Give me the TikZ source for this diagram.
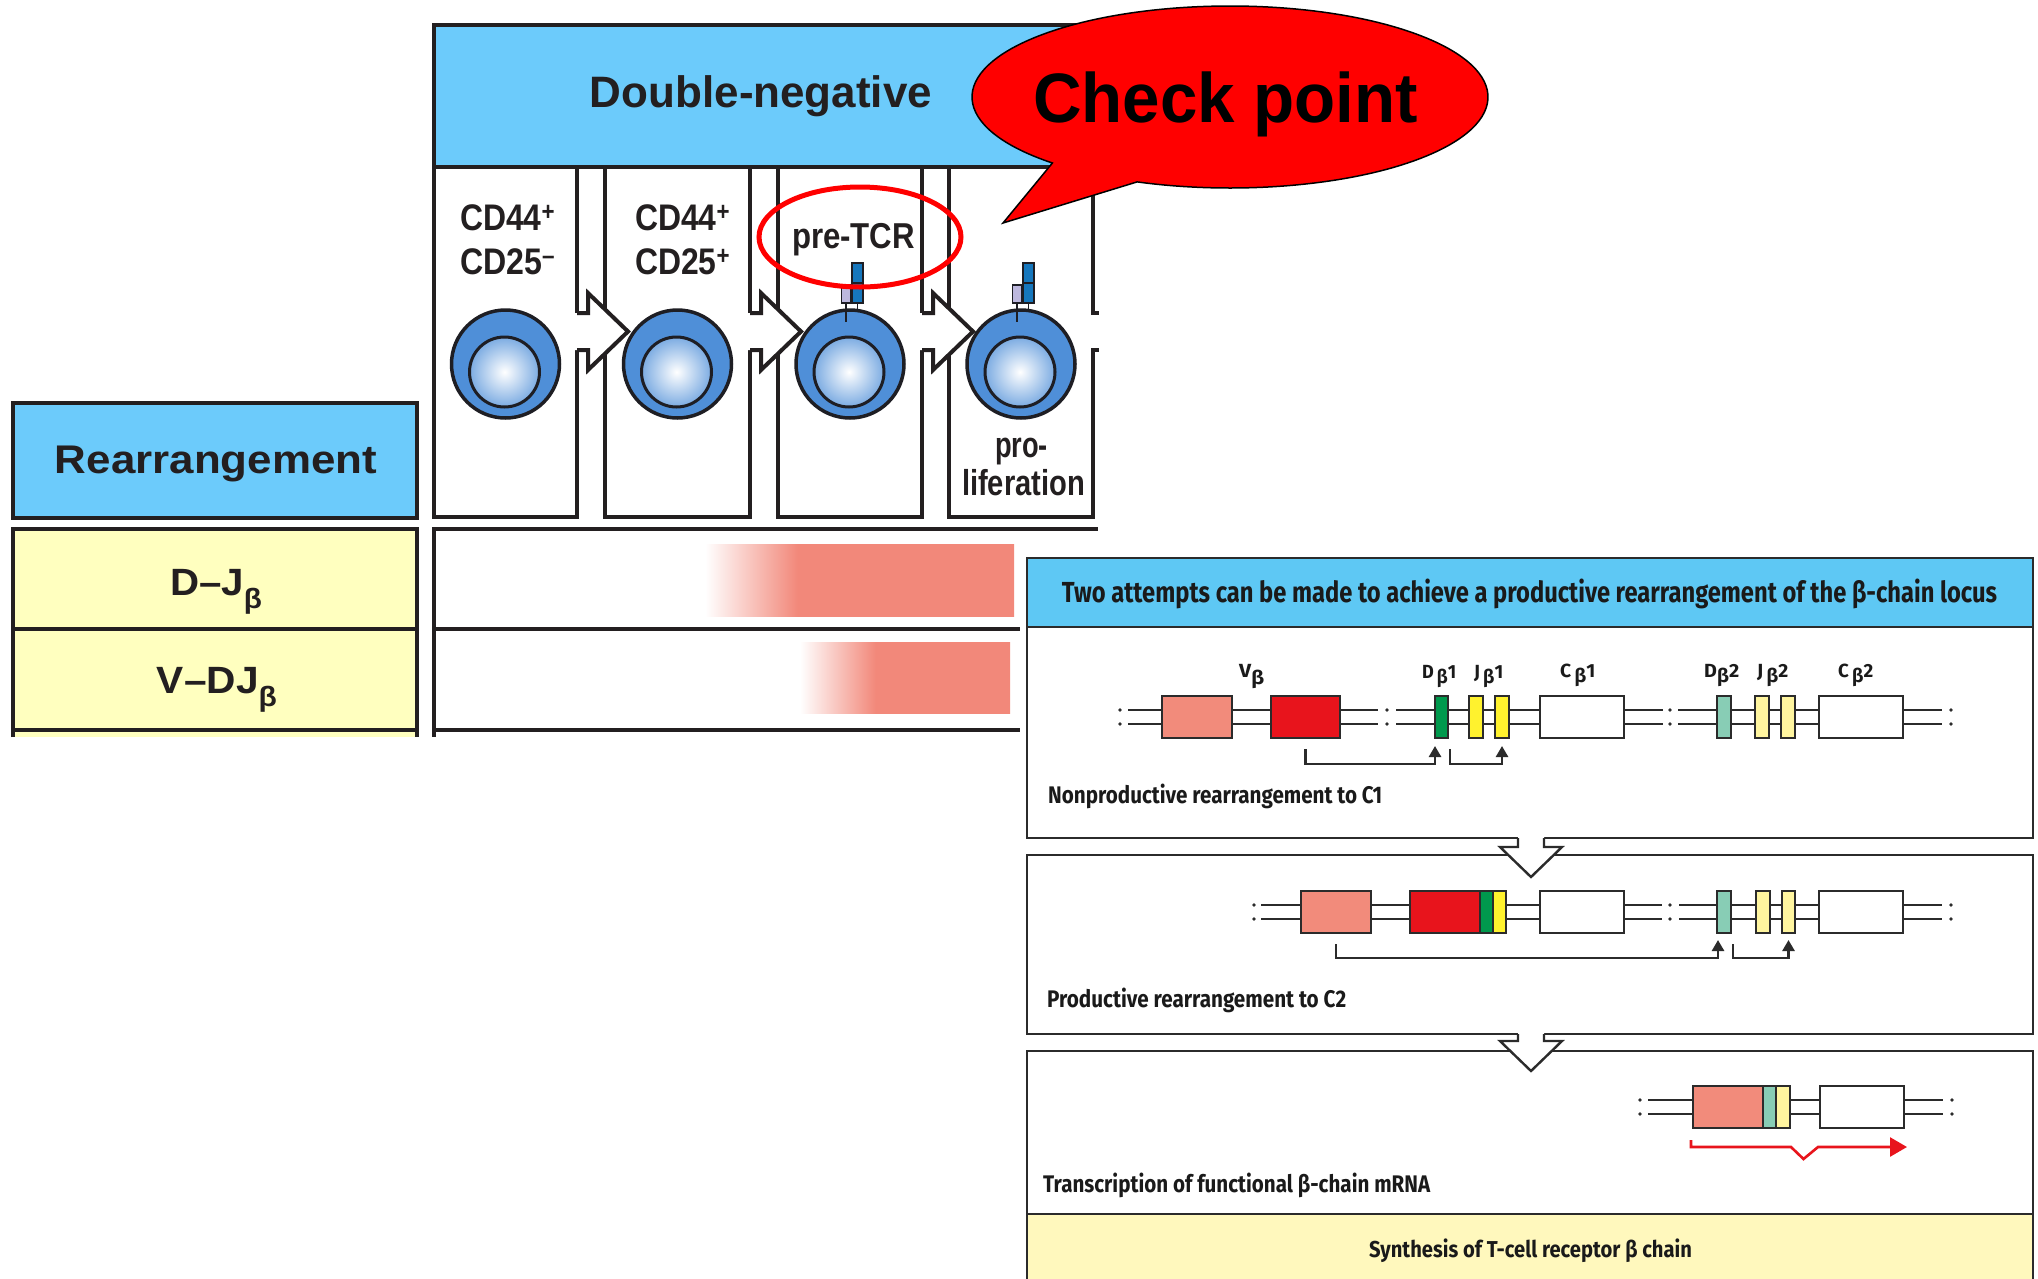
\documentclass[tikz,border=0pt]{standalone}
\usepackage{fontspec}
\usepackage{graphicx}
\setmainfont{Liberation Sans}
\newfontfamily\rf{Fira Sans}
\usetikzlibrary{arrows.meta,calc}

% squeeze or stretch a text horizontally to a given width, keeping its height
\newcommand\fitw[2]{\resizebox{#1}{\height}{#2}}

\definecolor{ink}{HTML}{231F20}
\definecolor{rtext}{HTML}{1A1A1A}
\definecolor{hdrblue}{HTML}{6CCBFB}
\definecolor{panelblue}{HTML}{5EC8F4}
\definecolor{rowyellow}{HTML}{FFFFBF}
\definecolor{synthyellow}{HTML}{FFF8BD}
\definecolor{salmon}{HTML}{F28B7B}
\definecolor{barsalmon}{HTML}{F2887A}
\definecolor{vred}{HTML}{E8141C}
\definecolor{dgreen}{HTML}{00994D}
\definecolor{jyellow}{HTML}{FFF22E}
\definecolor{dteal}{HTML}{88CDB5}
\definecolor{jpale}{HTML}{FFF59F}
\definecolor{cellblue}{HTML}{4F8FD8}
\definecolor{cellrim}{HTML}{1E1E24}
\definecolor{rcpblue}{HTML}{1677BD}
\definecolor{rcplav}{HTML}{BDB8DE}
\definecolor{linegray}{HTML}{2B2B2B}
\definecolor{ovalred}{HTML}{FF0000}
\definecolor{tred}{HTML}{E8141C}

% activity bars: white on the left, fading into solid salmon
\pgfdeclarehorizontalshading{djfade}{100bp}{color(0bp)=(white); color(25bp)=(white); color(40bp)=(barsalmon); color(100bp)=(barsalmon)}
\pgfdeclarehorizontalshading{vdjfade}{100bp}{color(0bp)=(white); color(25bp)=(white); color(43bp)=(barsalmon); color(100bp)=(barsalmon)}

\begin{document}
\begin{tikzpicture}[x=1pt,y=-1pt,
  thickframe/.style={draw=ink, line width=4pt},
  rframe/.style={draw=linegray, line width=2.4pt},
  gene/.style={draw=linegray, line width=2pt, inner sep=0pt, minimum height=42pt, anchor=west},
  strandline/.style={draw=linegray, line width=1.5pt},
  lbl/.style={inner sep=0pt, anchor=base, text=ink},
  rlbl/.style={inner sep=0pt, anchor=base west, text=rtext},
  bracket/.style={draw=linegray, line width=2.6pt, -{Triangle[width=12pt,length=11pt]}},
  cellbody/.style={circle, minimum size=108pt, inner sep=0pt, fill=cellblue, draw=cellrim, line width=3.5pt},
]
\useasboundingbox (0,0) rectangle (2038,1278);
\fill[white] (0,0) rectangle (2038,1278);

% ---------------- developmental stages ----------------
\foreach \L/\R in {434/577, 605/750, 778/922, 949/1093}
  \draw[thickframe, fill=white] (\L,167) rectangle (\R,517);
\draw[thickframe, fill=hdrblue] (434,25) rectangle (1093,167);

% block arrows joining the stages
\foreach \R in {577,750,922} {
  \fill[white] ({\R-2.5},313) -- ({\R+11},313) -- ({\R+11},293) -- ({\R+51},331.5)
     -- ({\R+11},370) -- ({\R+11},350) -- ({\R-2.5},350) -- cycle;
  \draw[ink, line width=4pt, line join=miter] (\R,313) -- ({\R+11},313) -- ({\R+11},293)
     -- ({\R+51},331.5) -- ({\R+11},370) -- ({\R+11},350) -- (\R,350);
}
\fill[white] (1090.5,315) rectangle (1100,348);
\draw[ink, line width=4pt] (1091,313) -- (1099,313) (1091,350) -- (1099,350);

% cells
\foreach \c [count=\i] in {505.5,677.5,850,1021} {
  \node[cellbody] (cell\i) at (\c,364) {};
  \shade[inner color=white, outer color=cellblue!75!white] ({\c-1},372) circle (35pt);
  \draw[cellrim, line width=3pt] ({\c-1},372) circle (35pt);
}
% pre-TCR on the cell surface
\foreach \c in {850,1021} {
  \draw[cellrim, line width=1.6pt] ({\c-4},303) -- ({\c-4},322);
  \draw[cellrim, line width=1.6pt] ({\c+7.5},303) -- ({\c+7.5},311);
  \draw[cellrim, line width=1.2pt, fill=rcplav] ({\c-8.5},285) rectangle ({\c+0.5},303);
  \draw[cellrim, line width=1.2pt, fill=rcpblue] ({\c+2},263) rectangle ({\c+13},303);
  \draw[cellrim, line width=1.2pt] ({\c+2},283) -- ({\c+13},283);
}

\node[lbl] (dneg) at (761,107) {\fitw{342pt}{\fontsize{44}{44}\selectfont\bfseries Double-negative}};
\node[lbl] (s1a) at (507.5,230) {\fitw{95pt}{\fontsize{37}{37}\selectfont\bfseries CD44\textsuperscript{+}}};
\node[lbl] (s1b) at (507.5,274) {\fitw{95pt}{\fontsize{37}{37}\selectfont\bfseries CD25\textsuperscript{–}}};
\node[lbl] (s2a) at (682.5,230) {\fitw{95pt}{\fontsize{37}{37}\selectfont\bfseries CD44\textsuperscript{+}}};
\node[lbl] (s2b) at (682.5,274) {\fitw{95pt}{\fontsize{37}{37}\selectfont\bfseries CD25\textsuperscript{+}}};
\node[lbl] (s3) at (853.5,248) {\fitw{123pt}{\fontsize{36}{36}\selectfont\bfseries pre-TCR}};
\node[lbl] (s4a) at (1021.5,457) {\fitw{53pt}{\fontsize{36}{36}\selectfont\bfseries pro-}};
\node[lbl] (s4b) at (1023.5,495) {\fitw{123pt}{\fontsize{36}{36}\selectfont\bfseries liferation}};

\draw[ovalred, line width=5pt] (860,237) ellipse [x radius=101, y radius=50];

% ---------------- rearrangement table ----------------
\shade[shading=djfade] (705,544) rectangle (1014,616);
\shade[shading=vdjfade] (800,642) rectangle (1010,713);
\draw[thickframe] (434,529) -- (1098,529);
\draw[thickframe] (434,629) -- (1020,629);
\draw[thickframe] (434,730) -- (1020,730);
\draw[thickframe] (434,527) -- (434,737);

\draw[thickframe, fill=hdrblue] (13,403) rectangle (417,518);
\fill[rowyellow] (13,529) rectangle (417,737);
\draw[thickframe] (13,737) -- (13,529) -- (417,529) -- (417,737);
\draw[thickframe] (13,629) -- (417,629);
\draw[thickframe] (13,730) -- (417,730);

\node[lbl] (rearr) at (216,473) {\fitw{322pt}{\fontsize{40}{40}\selectfont\bfseries Rearrangement}};
\node[lbl] (djrow) at (216,595) {\fitw{92pt}{\fontsize{38}{38}\selectfont\bfseries D–J\raisebox{-13pt}{\fontsize{28}{28}\selectfont β}}};
\node[lbl] (vdjrow) at (217,693) {\fitw{120pt}{\fontsize{38}{38}\selectfont\bfseries V–DJ\raisebox{-13pt}{\fontsize{28}{28}\selectfont β}}};

% ---------------- check point callout ----------------
\path[draw=black, line width=1.5pt, fill=ovalred, line join=miter]
  (1230,97) ++(133.5:258 and 91)
  arc[start angle=133.5, end angle=471.1, x radius=258, y radius=91]
  -- (1003,223) -- cycle;
\node[lbl, text=black] (cp) at (1225.5,122) {\fitw{385pt}{\fontsize{70}{70}\selectfont\bfseries Check point}};

% ---------------- beta-chain locus panel ----------------
\draw[rframe, fill=panelblue] (1027,558) rectangle (2033,627);
\draw[rframe, fill=white] (1027,627) rectangle (2033,838);
\draw[rframe, fill=white] (1027,855) rectangle (2033,1034);
\draw[rframe, fill=white] (1027,1051) rectangle (2033,1214);
\fill[synthyellow] (1027,1214) rectangle (2033,1280);
\draw[rframe] (1027,1280) -- (1027,1214) -- (2033,1214) -- (2033,1280);

% hollow arrows between the steps
\foreach \t/\b in {838/847, 1034/1041} {
  \fill[white] (1518,{\t-2}) -- (1518,\b) -- (1500,\b) -- (1531,{\b+30}) -- (1562,\b) -- (1544,\b) -- (1544,{\t-2}) -- cycle;
  \draw[linegray, line width=2.4pt, line join=miter] (1518,\t) -- (1518,\b) -- (1500,\b) -- (1531,{\b+30}) -- (1562,\b) -- (1544,\b) -- (1544,\t);
}

\node[lbl, text=rtext] (ttl) at (1529.5,602) {\fitw{935pt}{\rf\bfseries\fontsize{29}{29}\selectfont Two attempts can be made to achieve a productive rearrangement of the β-chain locus}};

% DNA strands with break marks
\foreach \y/\segs/\dots in {717/{1128/1378,1396/1663,1678/1942}/{1120,1387,1670,1951},
                             912/{1261/1662,1679/1942}/{1254,1670,1951},
                             1107/{1648/1943}/{1640,1952}} {
  \foreach \a/\e in \segs {
    \draw[strandline] (\a,{\y-7}) -- (\e,{\y-7});
    \draw[strandline] (\a,{\y+7}) -- (\e,{\y+7});
  }
  \foreach \d in \dots {
    \fill[linegray] (\d,{\y-7}) circle (1.8pt);
    \fill[linegray] (\d,{\y+7}) circle (1.8pt);
  }
}

% germline locus
\node[gene, fill=salmon,  minimum width=70pt] (av1) at (1161,717) {};
\node[gene, fill=vred,    minimum width=69pt] (av2) at (1270,717) {};
\node[gene, fill=dgreen,  minimum width=13pt] (ad1) at (1433.5,717) {};
\node[gene, fill=jyellow, minimum width=14pt] (aj1) at (1468,717) {};
\node[gene, fill=jyellow, minimum width=14pt] (aj2) at (1494,717) {};
\node[gene, fill=white,   minimum width=84pt] (ac1) at (1539,717) {};
\node[gene, fill=dteal,   minimum width=14pt] (ad2) at (1716,717) {};
\node[gene, fill=jpale,   minimum width=14pt] (aj3) at (1754,717) {};
\node[gene, fill=jpale,   minimum width=14pt] (aj4) at (1780,717) {};
\node[gene, fill=white,   minimum width=84pt] (ac2) at (1818,717) {};

\draw[bracket] ($(av2.south)+(0,10)$) -- ++(0,15) -| ($(ad1.south west)+(1.5,7)$);
\draw[bracket] ($(ad1.south east)+(1.5,10)$) -- ++(0,15) -| ($(aj2.south)+(0,7)$);

% after the first attempt
\node[gene, fill=salmon,  minimum width=70pt] (bv1) at (1300,912) {};
\node[gene, fill=vred,    minimum width=70pt] (bv2) at (1409,912) {};
\node[gene, fill=dgreen,  minimum width=13pt] (bd1) at (1479,912) {};
\node[gene, fill=jyellow, minimum width=13pt] (bj1) at (1492,912) {};
\node[gene, fill=white,   minimum width=84pt] (bc1) at (1539,912) {};
\node[gene, fill=dteal,   minimum width=14pt] (bd2) at (1716,912) {};
\node[gene, fill=jpale,   minimum width=14pt] (bj3) at (1755,912) {};
\node[gene, fill=jpale,   minimum width=13pt] (bj4) at (1781,912) {};
\node[gene, fill=white,   minimum width=84pt] (bc2) at (1818,912) {};

\draw[bracket] ($(bv1.south)+(0,10)$) -- ++(0,14) -| ($(bd2.south west)+(2,6)$);
\draw[bracket] ($(bd2.south east)+(1,10)$) -- ++(0,14) -| ($(bj4.south)+(0,6)$);

% rearranged gene
\node[gene, fill=salmon, minimum width=70pt] (cv) at (1692,1107) {};
\node[gene, fill=dteal,  minimum width=13pt] (cd) at (1762,1107) {};
\node[gene, fill=jpale,  minimum width=14pt] (cj) at (1775,1107) {};
\node[gene, fill=white,  minimum width=84pt] (cc) at (1819,1107) {};

\draw[tred, line width=2.6pt, line join=miter, -{Triangle[width=19pt,length=17pt]}]
  ($(cv.south west)+(-1,11)$) -- ++(0,7) -- ($(cj.south east)+(0,18)$)
  -- (1803.5,1159) -- ($(cc.south west)+(-1,18)$) -- ($(cc.south east)+(2,18)$);

% segment labels
\node[rlbl] (lv)  at (1239,677) {\fitw{25pt}{\rf\bfseries\fontsize{19}{19}\selectfont V\raisebox{-7pt}{β}}};
\node[rlbl] (ld1) at (1422,678) {\fitw{34pt}{\rf\bfseries\fontsize{19}{19}\selectfont D\,\raisebox{-5pt}{β}1}};
\node[rlbl] (lj1) at (1474,678) {\fitw{29pt}{\rf\bfseries\fontsize{19}{19}\selectfont J\,\raisebox{-5pt}{β}1}};
\node[rlbl] (lc1) at (1560,677) {\fitw{35pt}{\rf\bfseries\fontsize{19}{19}\selectfont C\,\raisebox{-5pt}{β}1}};
\node[rlbl] (ld2) at (1704,677) {\fitw{35pt}{\rf\bfseries\fontsize{19}{19}\selectfont D\raisebox{-5pt}{β}2}};
\node[rlbl] (lj2) at (1757,677) {\fitw{31pt}{\rf\bfseries\fontsize{19}{19}\selectfont J\,\raisebox{-5pt}{β}2}};
\node[rlbl] (lc2) at (1838,677) {\fitw{35pt}{\rf\bfseries\fontsize{19}{19}\selectfont C\,\raisebox{-5pt}{β}2}};

\node[rlbl] (t1) at (1048,803) {\fitw{334pt}{\rf\bfseries\fontsize{24}{24}\selectfont Nonproductive rearrangement to C1}};
\node[rlbl] (t2) at (1047,1007) {\fitw{299pt}{\rf\bfseries\fontsize{24}{24}\selectfont Productive rearrangement to C2}};
\node[rlbl] (t3) at (1043,1192) {\fitw{387pt}{\rf\bfseries\fontsize{24}{24}\selectfont Transcription of functional β-chain mRNA}};
\node[lbl, text=rtext] (t4) at (1530.5,1257) {\fitw{323pt}{\rf\bfseries\fontsize{23}{23}\selectfont Synthesis of T-cell receptor β chain}};
\end{tikzpicture}
\end{document}
